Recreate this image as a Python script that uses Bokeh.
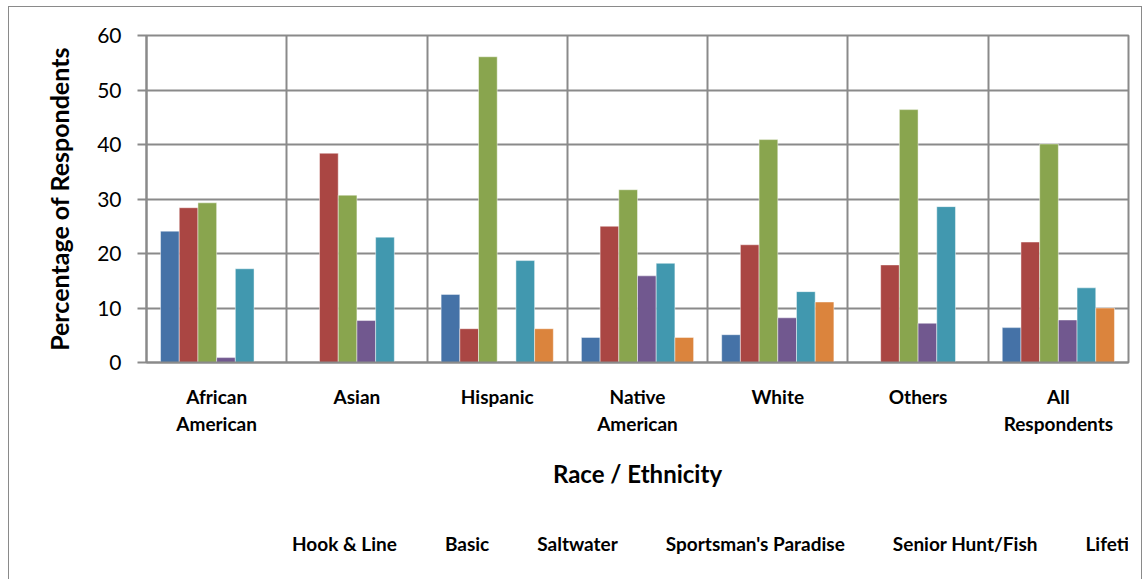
from bokeh.plotting import figure
from bokeh.layouts import column
from bokeh.models import Range1d, FixedTicker, ColumnDataSource, Legend, LegendItem
from bokeh.transform import dodge
from bokeh.embed import file_html
from bokeh.resources import INLINE

categories = ["African\nAmerican", "Asian", "Hispanic", "Native\nAmerican", "White", "Others", "All\nRespondents"]
series_names = ["Hook & Line", "Basic", "Saltwater", "Sportsman's Paradise", "Senior Hunt/Fish", "Lifetime"]
hook_line = [24.1, 0, 12.5, 4.6, 5.1, 0, 6.4]
basic = [28.4, 38.4, 6.2, 25.0, 21.6, 17.9, 22.1]
saltwater = [29.3, 30.7, 56.1, 31.7, 40.9, 46.4, 40.1]
sportsman = [0.9, 7.7, 0, 15.9, 8.2, 7.2, 7.8]
senior = [17.2, 23.0, 18.7, 18.2, 13.0, 28.6, 13.7]
lifetime = [0, 0, 6.2, 4.6, 11.1, 0, 10.0]
y_ticks = [0, 10, 20, 30, 40, 50, 60]

colors = ["#4572A7", "#AA4643", "#89A54E", "#71588F", "#4198AF", "#DB843D"]
series = [hook_line, basic, saltwater, sportsman, senior, lifetime]

FONT = "Lato"
GRID = "#8a8a8a"

# ---------------- main chart ----------------
p = figure(width=1132, height=495, output_backend="svg", toolbar_location=None,
           x_range=Range1d(0, 7), y_range=Range1d(0, 60),
           min_border_left=137, min_border_top=28, min_border_right=13, min_border_bottom=140)

xc = [i + 0.5 for i in range(len(categories))]
src = ColumnDataSource(dict(x=xc, **{f"s{j}": s for j, s in enumerate(series)}))

bw = 0.1333
for j, col in enumerate(colors):
    p.vbar(x=dodge("x", (j - 2.5) * bw, range=p.x_range), top=f"s{j}", bottom=0, width=bw,
           source=src, fill_color=col, line_color="white", line_alpha=0.45, line_width=1)

p.xaxis.ticker = FixedTicker(ticks=xc)
p.xaxis.major_label_overrides = {x: c for x, c in zip(xc, categories)}
p.xaxis.major_tick_out = 0
p.xaxis.major_tick_in = 0
p.xaxis.minor_tick_out = 0
p.xaxis.minor_tick_in = 0
p.xaxis.axis_line_color = GRID
p.xaxis.axis_line_width = 2
p.xaxis.major_label_text_font = FONT
p.xaxis.major_label_text_font_style = "bold"
p.xaxis.major_label_text_font_size = "19px"
p.xaxis.major_label_text_color = "black"
p.xaxis.major_label_standoff = 22
p.xaxis.axis_label = "Race / Ethnicity"
p.xaxis.axis_label_text_font = FONT
p.xaxis.axis_label_text_font_style = "bold"
p.xaxis.axis_label_text_font_size = "24px"
p.xaxis.axis_label_text_color = "black"
p.xaxis.axis_label_standoff = 21

p.yaxis.ticker = FixedTicker(ticks=y_ticks)
p.yaxis.major_tick_out = 9
p.yaxis.major_tick_in = 0
p.yaxis.minor_tick_out = 0
p.yaxis.minor_tick_in = 0
p.yaxis.major_tick_line_color = GRID
p.yaxis.major_tick_line_width = 2
p.yaxis.axis_line_color = GRID
p.yaxis.axis_line_width = 2
p.yaxis.major_label_text_font = FONT
p.yaxis.major_label_text_font_size = "21px"
p.yaxis.major_label_text_color = "black"
p.yaxis.major_label_standoff = 16
p.yaxis.axis_label = "Percentage of Respondents"
p.yaxis.axis_label_text_font = FONT
p.yaxis.axis_label_text_font_style = "bold"
p.yaxis.axis_label_text_font_size = "25px"
p.yaxis.axis_label_text_color = "black"
p.yaxis.axis_label_standoff = 20

p.xgrid.ticker = FixedTicker(ticks=list(range(0, 8)))
p.xgrid.grid_line_color = GRID
p.xgrid.grid_line_width = 2
p.ygrid.grid_line_color = GRID
p.ygrid.grid_line_width = 2
p.outline_line_color = GRID
p.outline_line_width = 2

# ---------------- legend strip ----------------
lf = figure(width=1132, height=77, output_backend="svg", toolbar_location=None,
            x_range=Range1d(0, 1), y_range=Range1d(0, 1),
            x_axis_type=None, y_axis_type=None, min_border=0)
lf.grid.visible = False
lf.outline_line_color = None

items = []
for name, col in zip(series_names, colors):
    r = lf.vbar(x=[], top=[], bottom=0, width=0.1, fill_color=col,
                line_color="white", line_alpha=0.45, line_width=1)
    items.append(LegendItem(label=name, renderers=[r]))

legend = Legend(items=items, orientation="horizontal", location=(128, 24),
                glyph_width=11, glyph_height=11, label_standoff=7, spacing=30,
                padding=0, margin=0, border_line_color=None, background_fill_alpha=0,
                label_text_font=FONT, label_text_font_style="bold",
                label_text_font_size="19px", label_text_color="black")
lf.add_layout(legend, "center")

layout = column(p, lf, spacing=0)
layout.styles = {"margin-left": "8px", "margin-top": "6px",
                 "border-left": "1px solid #8a8a8a", "border-top": "1px solid #8a8a8a",
                 "border-right": "1px solid #8a8a8a"}

open("out.html", "w").write(file_html(layout, INLINE))
